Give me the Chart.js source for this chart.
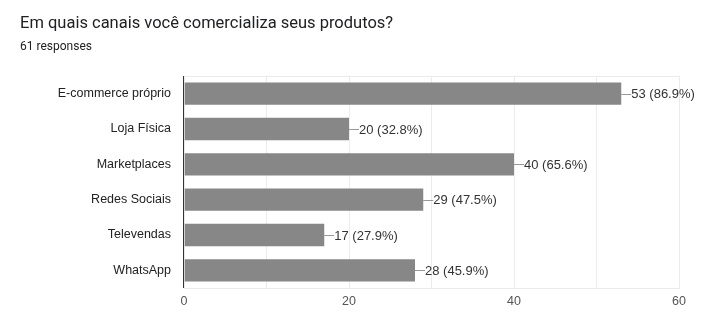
<!DOCTYPE html>
<html>
<head>
<meta charset="utf-8">
<script src="https://cdn.jsdelivr.net/npm/chart.js@4.4.0/dist/chart.umd.min.js"></script>
<style>
  body { margin: 0; background: #fff; }
  #wrap { position: relative; width: 719px; height: 330px; }
  #title { position: absolute; left: 20px; top: 13px; font: 16.5px Roboto, sans-serif; color: #202124; }
  #sub { position: absolute; left: 20px; top: 39px; font: 12px Roboto, sans-serif; color: #202124; }
  canvas { position: absolute; left: 0; top: 0; }
</style>
</head>
<body>
<div id="wrap">
  <canvas id="chart" width="719" height="330"></canvas>
  <div id="title">Em quais canais você comercializa seus produtos?</div>
  <div id="sub">61 responses</div>
</div>
<script>
const categories = ['E-commerce próprio', 'Loja Física', 'Marketplaces', 'Redes Sociais', 'Televendas', 'WhatsApp'];
const counts = [53, 20, 40, 29, 17, 28];
const percents = ['86.9%', '32.8%', '65.6%', '47.5%', '27.9%', '45.9%'];
const xTicks = [0, 20, 40, 60];

// leader line + "n (p%)" after each bar
const barLabels = {
  id: 'barLabels',
  afterDatasetsDraw(chart) {
    const ctx = chart.ctx;
    const meta = chart.getDatasetMeta(0);
    ctx.save();
    ctx.font = '13px "Liberation Sans", Arial, sans-serif';
    ctx.textBaseline = 'middle';
    meta.data.forEach((bar, i) => {
      ctx.strokeStyle = '#999';
      ctx.lineWidth = 1;
      ctx.beginPath();
      ctx.moveTo(bar.x, Math.round(bar.y) + 0.5);
      ctx.lineTo(bar.x + 10, Math.round(bar.y) + 0.5);
      ctx.stroke();
      ctx.fillStyle = '#333';
      ctx.fillText(counts[i] + ' (' + percents[i] + ')', bar.x + 10, bar.y + 1);
    });
    ctx.restore();
  }
};

// light frame round the plot
const frame = {
  id: 'frame',
  beforeDatasetsDraw(chart) {
    const a = chart.chartArea;
    const ctx = chart.ctx;
    ctx.save();
    ctx.strokeStyle = '#ebebeb';
    ctx.lineWidth = 1;
    ctx.strokeRect(a.left + 0.5, a.top + 0.5, a.right - a.left, a.bottom - a.top);
    ctx.restore();
  }
};

new Chart(document.getElementById('chart'), {
  type: 'bar',
  data: {
    labels: categories,
    datasets: [{
      data: counts,
      backgroundColor: '#878787',
      borderWidth: 0,
      barPercentage: 0.63,
      categoryPercentage: 1
    }]
  },
  options: {
    indexAxis: 'y',
    responsive: false,
    animation: false,
    layout: { padding: { left: 0, right: 40, top: 76, bottom: 0 } },
    plugins: { legend: { display: false }, tooltip: { enabled: false } },
    scales: {
      x: {
        min: 0,
        max: 60,
        afterFit: (s) => { s.height = 42; },
        afterBuildTicks: (s) => {
          const t = [];
          for (let v = 0; v <= 60; v += 10) t.push({ value: v });
          s.ticks = t;
        },
        ticks: {
          padding: 6,
          color: '#555',
          font: { family: '"Liberation Sans", Arial, sans-serif', size: 12.5 },
          callback: (v) => (xTicks.includes(v) ? v : '')
        },
        grid: {
          drawTicks: false,
          color: (c) => (c.tick && c.tick.value === 0 ? '#333' : '#ececec'),
          lineWidth: (c) => (c.tick && c.tick.value === 0 ? 1.5 : 1)
        },
        border: { display: false }
      },
      y: {
        afterFit: (s) => { s.width = 184; },
        ticks: {
          padding: 13,
          color: '#222',
          font: { family: '"Liberation Sans", Arial, sans-serif', size: 12.5 }
        },
        grid: { display: false, drawTicks: false },
        border: { display: false }
      }
    }
  },
  plugins: [frame, barLabels]
});
</script>
</body>
</html>
